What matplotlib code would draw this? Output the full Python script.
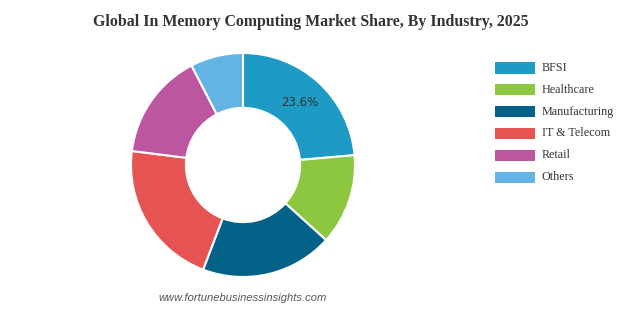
import matplotlib
matplotlib.use("Agg")
import matplotlib.pyplot as plt
from matplotlib.patches import Rectangle
import numpy as np

categories = ["BFSI", "Healthcare", "Manufacturing", "IT & Telecom", "Retail", "Others"]
shares = [23.6, 13.1, 19.1, 21.2, 15.4, 7.6]
colors = ["#1e9bc4", "#8dc63f", "#046289", "#e55353", "#bc56a0", "#63b3e3"]
title = "Global In Memory Computing Market Share, By Industry, 2025"
source = "www.fortunebusinessinsights.com"

W, H = 623, 310
fig = plt.figure(figsize=(W / 100, H / 100), dpi=100)
fig.patch.set_facecolor("white")

cx, cy, R = 243, 165, 112
ax = fig.add_axes([(cx - R) / W, (H - cy - R) / H, 2 * R / W, 2 * R / H])
wedges, _ = ax.pie(shares, colors=colors, startangle=90, counterclock=False,
                   radius=1.0, wedgeprops=dict(width=0.49, edgecolor="white", linewidth=1.5))
ax.set_xlim(-1, 1)
ax.set_ylim(-1, 1)
ax.set_aspect("equal")
ax.axis("off")

# label on first slice
ang = 90 - shares[0] / 100 * 360 / 2
r_lab = 0.755
ax.text(r_lab * np.cos(np.radians(ang)), r_lab * np.sin(np.radians(ang)),
        f"{shares[0]}%", ha="center", va="center", fontsize=8.5,
        color="#333333", family="DejaVu Sans")

fig.text(0.5 * (95 + 527) / W, 1 - 22 / H, title, ha="center", va="center",
         fontsize=11.4, fontweight="bold", family="Liberation Serif", color="#333333")

fig.text(cx / W, 1 - 298 / H, source, ha="center", va="center", fontsize=8,
         style="italic", family="Liberation Sans", color="#555555")

# legend
y0, dy = 68, 21.8
for i, (lab, c) in enumerate(zip(categories, colors)):
    y = y0 + i * dy
    fig.patches.append(Rectangle((495 / W, 1 - (y + 5.5) / H), 40 / W, 11 / H,
                                 transform=fig.transFigure, facecolor=c, edgecolor="none"))
    fig.text(542 / W, 1 - y / H, lab, ha="left", va="center", fontsize=8.7,
             family="Liberation Serif", color="#333333")

fig.savefig("out.png", dpi=100)
